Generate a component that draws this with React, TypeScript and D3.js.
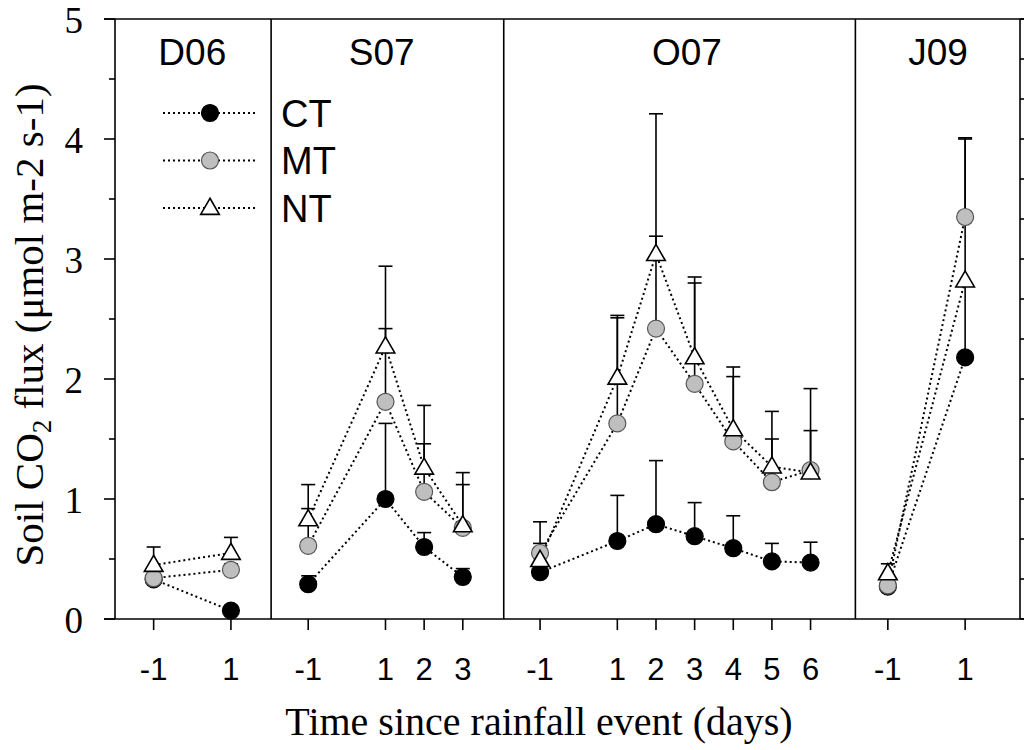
import React from "react";
import * as d3 from "d3";

// sampling campaigns and the days sampled in each (relative to rainfall)
const campaigns = ["D06", "S07", "O07", "J09"];
const campaignDays = [
  [-1, 1],
  [-1, 1, 2, 3],
  [-1, 1, 2, 3, 4, 5, 6],
  [-1, 1],
];

// means and upper error-bar ends, in campaign order (D06, S07, O07, J09)
const ctMean = [0.33, 0.07, 0.29, 1.0, 0.6, 0.35, 0.39, 0.65, 0.79, 0.69, 0.59, 0.48, 0.47, 0.27, 2.18];
const ctUpper = [0.35, 0.09, 0.36, 1.63, 0.72, 0.42, 0.42, 1.03, 1.32, 0.97, 0.86, 0.63, 0.64, 0.3, 2.78];
const mtMean = [0.34, 0.41, 0.61, 1.81, 1.06, 0.76, 0.55, 1.63, 2.42, 1.96, 1.48, 1.14, 1.24, 0.28, 3.35];
const mtUpper = [0.4, 0.46, 0.92, 2.94, 1.46, 1.12, 0.63, 2.51, 3.19, 2.8, 2.02, 1.5, 1.57, 0.33, 4.01];
const ntMean = [0.45, 0.55, 0.83, 2.27, 1.26, 0.78, 0.49, 2.01, 3.04, 2.18, 1.58, 1.27, 1.22, 0.38, 2.82];
const ntUpper = [0.6, 0.68, 1.12, 2.42, 1.78, 1.22, 0.81, 2.53, 4.21, 2.85, 2.1, 1.73, 1.92, 0.46, 4.0];

const seriesNames = ["CT", "MT", "NT"];
const yTicks = [0, 1, 2, 3, 4, 5];

const W = 1024;
const H = 750;

// position of each sampled day on the continuous x axis
const offsets: number[] = [];
campaignDays.reduce((off, days) => {
  offsets.push(off);
  return off + d3.max(days)! + 1 + 2;
}, 0);
const dayPos = (ci: number, d: number) => offsets[ci] + (d === -1 ? 0 : d + 1);
const points = campaignDays.flatMap((days, ci) => days.map((d) => ({ ci, day: d, pos: dayPos(ci, d) })));

const x = d3.scaleLinear().domain([-1, 22.42]).range([115, 1020]);
const y = d3.scaleLinear().domain([0, 5]).range([619, 19]);
const yRight = d3.scaleLinear().domain([0, 15]).range([619, 19]);

// where the panel separators sit and where the panel titles go (x units)
const dividers = [3.04, 9.06, 18.16];
const titlePos = [1, 5.9, 13.8, 20.3];

const styles = [
  { fill: "#000", stroke: "#000", shape: "circle" },
  { fill: "#bfbfbf", stroke: "#555", shape: "circle" },
  { fill: "#fff", stroke: "#000", shape: "triangle" },
];

const tri = d3.symbol(d3.symbolTriangle, 150);

function Marker({ cx, cy, s }: { cx: number; cy: number; s: number }) {
  const st = styles[s];
  if (st.shape === "circle")
    return <circle cx={cx} cy={cy} r={8.5} fill={st.fill} stroke={st.stroke} strokeWidth={1.2} />;
  return (
    <path d={tri()!} transform={`translate(${cx},${cy + 1})`} fill={st.fill} stroke={st.stroke} strokeWidth={1.6} />
  );
}

export default function App() {
  const means = [ctMean, mtMean, ntMean];
  const uppers = [ctUpper, mtUpper, ntUpper];

  // one line per campaign (lines do not join across campaigns)
  const segs = (vals: number[]) =>
    campaignDays.map((_, ci) => {
      const idx = points.map((p, i) => (p.ci === ci ? i : -1)).filter((i) => i >= 0);
      return idx.map((i) => [x(points[i].pos), y(vals[i])] as [number, number]);
    });

  return (
    <svg width={W} height={H} style={{ position: "absolute", left: 0, top: 0, background: "#fff" }}>
      {/* dotted connecting lines */}
      {means.map((vals, s) =>
        segs(vals).map((pts, ci) => (
          <path
            key={`l${s}-${ci}`}
            d={d3.line()(pts)!}
            fill="none"
            stroke="#000"
            strokeWidth={2}
            strokeDasharray="2,3"
          />
        ))
      )}
      {/* error bars (upper only) */}
      {uppers.map((ups, s) =>
        ups.map((u, i) => {
          const px = x(points[i].pos);
          return (
            <g key={`e${s}-${i}`} stroke="#000" strokeWidth={1.6}>
              <line x1={px} x2={px} y1={y(means[s][i])} y2={y(u)} />
              <line x1={px - 7} x2={px + 7} y1={y(u)} y2={y(u)} />
            </g>
          );
        })
      )}
      {/* markers */}
      {means.map((vals, s) =>
        vals.map((v, i) => <Marker key={`m${s}-${i}`} cx={x(points[i].pos)} cy={y(v)} s={s} />)
      )}

      {/* frame */}
      <g stroke="#000" strokeWidth={1.6} fill="none">
        <line x1={x.range()[0]} x2={x.range()[0]} y1={y(0)} y2={y(5)} />
        <line x1={x.range()[1]} x2={x.range()[1]} y1={y(0)} y2={y(5)} />
        <line x1={104} x2={W} y1={y(0)} y2={y(0)} />
        <line x1={104} x2={W} y1={y(5)} y2={y(5)} />
        {dividers.map((d, i) => (
          <line key={i} x1={x(d)} x2={x(d)} y1={y(0)} y2={y(5)} />
        ))}
        {/* left y ticks */}
        {d3.range(0, 5.01, 0.5).map((t) => (
          <line key={`yt${t}`} x1={t % 1 === 0 ? 104 : 109} x2={115} y1={y(t)} y2={y(t)} />
        ))}
        {/* right ticks */}
        {yRight.ticks(15).map((t) => (
          <line key={`rt${t}`} x1={1020} x2={1030} y1={yRight(t)} y2={yRight(t)} />
        ))}
        {/* x ticks */}
        {points.map((p, i) => (
          <line key={`xt${i}`} x1={x(p.pos)} x2={x(p.pos)} y1={y(0)} y2={y(0) + 11} />
        ))}
      </g>

      {/* y tick labels */}
      <g fontFamily="'Liberation Serif', serif" fontSize={37} textAnchor="end">
        {yTicks.map((t) => (
          <text key={t} x={83} y={y(t)} dy="0.38em">
            {t}
          </text>
        ))}
      </g>

      {/* x tick labels */}
      <g fontFamily="'Liberation Sans', Arial, sans-serif" fontSize={31} textAnchor="middle">
        {points.map((p, i) => (
          <text key={i} x={x(p.pos)} y={680}>
            {p.day}
          </text>
        ))}
      </g>

      {/* panel titles */}
      <g fontFamily="'Liberation Sans', Arial, sans-serif" fontSize={37} textAnchor="middle">
        {campaigns.map((c, i) => (
          <text key={c} x={x(titlePos[i])} y={65}>
            {c}
          </text>
        ))}
      </g>

      {/* legend */}
      {seriesNames.map((n, s) => {
        const ly = 113 + s * 47.5;
        return (
          <g key={n}>
            <line x1={163} x2={255} y1={ly} y2={ly} stroke="#000" strokeWidth={2} strokeDasharray="2,3" />
            <Marker cx={210} cy={ly} s={s} />
            <text
              x={281}
              y={ly}
              dy="0.36em"
              fontFamily="'Liberation Sans', Arial, sans-serif"
              fontSize={38}
            >
              {n}
            </text>
          </g>
        );
      })}

      {/* axis titles */}
      <text
        x={539}
        y={735}
        textAnchor="middle"
        fontFamily="'Liberation Serif', serif"
        fontSize={40}
      >
        Time since rainfall event (days)
      </text>
      <text
        transform="translate(43,325) rotate(-90)"
        textAnchor="middle"
        fontFamily="'Liberation Serif', serif"
        fontSize={41}
      >
        <tspan>Soil CO</tspan>
        <tspan fontSize={27} dy="0.3em">
          2
        </tspan>
        <tspan dy="-0.2em"> flux (μmol m-2 s-1)</tspan>
      </text>
    </svg>
  );
}
